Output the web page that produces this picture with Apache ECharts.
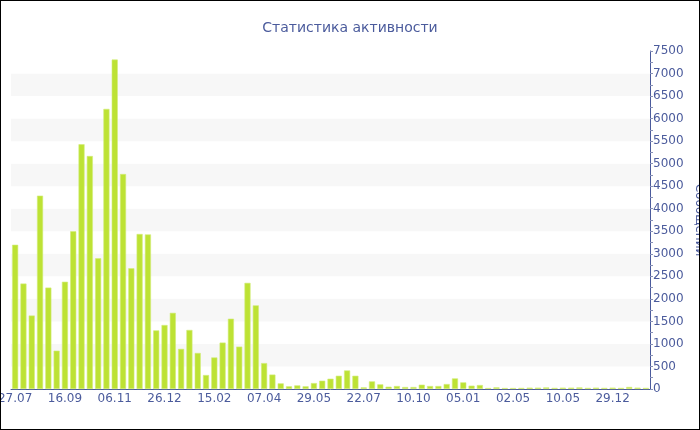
<!DOCTYPE html>
<html>
<head>
<meta charset="utf-8">
<script src="https://cdn.jsdelivr.net/npm/echarts@6/dist/echarts.min.js"></script>
<style>
html,body{margin:0;padding:0;background:#fff;}
#chart{width:700px;height:430px;box-sizing:border-box;border:1px solid #000;}
</style>
</head>
<body>
<div id="chart"></div>
<script>
// Category dates (dd.mm.yyyy); only every 6th is shown as dd.mm
const categories = [
 '27.07.2009','04.08.2009','12.08.2009','21.08.2009','29.08.2009','07.09.2009',
 '16.09.2009','24.09.2009','03.10.2009','11.10.2009','20.10.2009','28.10.2009',
 '06.11.2009','14.11.2009','23.11.2009','01.12.2009','09.12.2009','18.12.2009',
 '26.12.2009','03.01.2010','12.01.2010','20.01.2010','29.01.2010','06.02.2010',
 '15.02.2010','23.02.2010','04.03.2010','12.03.2010','21.03.2010','29.03.2010',
 '07.04.2010','15.04.2010','24.04.2010','03.05.2010','11.05.2010','20.05.2010',
 '29.05.2010','07.06.2010','16.06.2010','25.06.2010','04.07.2010','13.07.2010',
 '22.07.2010','05.08.2010','18.08.2010','31.08.2010','13.09.2010','27.09.2010',
 '10.10.2010','24.10.2010','08.11.2010','22.11.2010','07.12.2010','21.12.2010',
 '05.01.2011','25.01.2011','14.02.2011','06.03.2011','26.03.2011','14.04.2011',
 '02.05.2011','01.07.2011','29.08.2011','27.10.2011','25.12.2011','23.02.2012',
 '10.05.2012','17.06.2012','26.07.2012','04.09.2012','13.10.2012','21.11.2012',
 '29.12.2012','07.02.2013','17.03.2013','25.04.2013','03.06.2013'
];
const messages = [
 3200, 2340, 1630, 4290, 2250, 850,
 2380, 3500, 5430, 5170, 2900, 6215,
 7310, 4770, 2680, 3440, 3430, 1300,
 1420, 1690, 890, 1310, 800, 310,
 700, 1030, 1560, 940, 2355, 1855,
 575, 320, 125, 60, 80, 60,
 132, 184, 228, 294, 412, 294,
 37, 169, 103, 51, 66, 44,
 44, 96, 66, 66, 110, 235,
 147, 74, 88, 22, 37, 22,
 22, 25, 30, 30, 35, 25,
 30, 30, 35, 25, 30, 25,
 30, 25, 45, 30, 25
];
const titleText = 'Статистика активности';
const yName = 'Сообщений';
const yMax = 7500, yStep = 500;

const textColor = '#4b5b9c';
const chart = echarts.init(document.getElementById('chart'));
chart.setOption({
  animation: false,
  textStyle: { fontFamily: 'DejaVu Sans' },
  title: {
    text: titleText, left: 'center', top: 15,
    textStyle: { color: textColor, fontSize: 14, fontWeight: 'normal', fontFamily: 'DejaVu Sans' }
  },
  grid: { left: 10, right: 49, top: 50, bottom: 40, containLabel: false, outerBoundsMode: 'none' },
  xAxis: {
    type: 'category',
    data: categories,
    axisLine: { lineStyle: { color: textColor, width: 1 } },
    axisTick: { alignWithLabel: true, interval: 5, length: 4, lineStyle: { color: '#8891b8' } },
    axisLabel: { interval: 5, color: textColor, fontSize: 12, margin: 4,
      formatter: v => v.slice(0, 5) },
    splitLine: { show: false }
  },
  yAxis: {
    type: 'value',
    position: 'right',
    min: 0, max: yMax, interval: yStep,
    name: yName, nameLocation: 'middle', nameRotate: -90, nameGap: 43, nameMoveOverlap: false,
    nameTextStyle: { color: textColor, fontSize: 12 },
    axisLine: { show: true, lineStyle: { color: textColor } },
    axisTick: { show: true, length: 3, lineStyle: { color: '#8891b8' } },
    minorTick: { show: true, splitNumber: 2, length: 3, lineStyle: { color: '#8891b8' } },
    axisLabel: { color: textColor, fontSize: 12, margin: 3, formatter: v => String(v) },
    splitLine: { show: false },
    splitArea: { show: true, areaStyle: { color: ['#ffffff', '#f7f7f7'] } }
  },
  series: [{
    type: 'bar',
    data: messages,
    barCategoryGap: '27%',
    itemStyle: { color: '#bde234', borderColor: '#d2ec78', borderWidth: 0.6 }
  }]
});
</script>
</body>
</html>
